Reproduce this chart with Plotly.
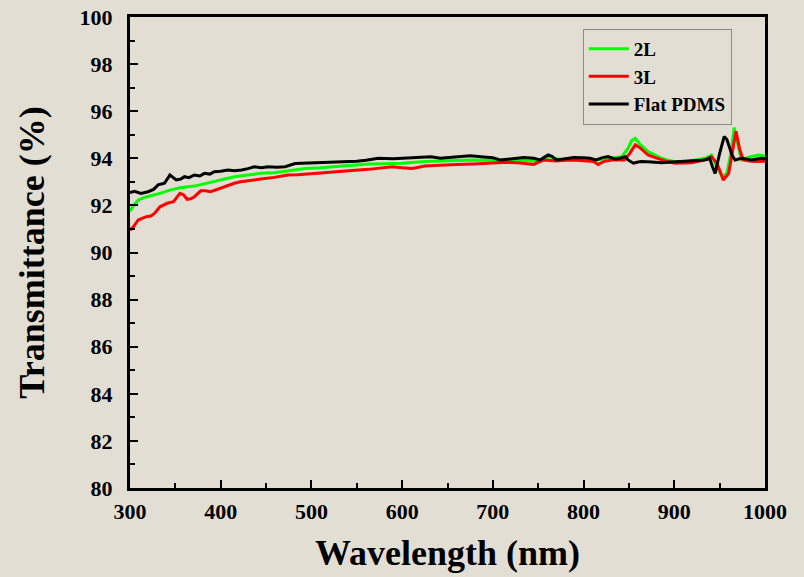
import plotly.graph_objects as go

# ---- data ----
wl_2L = [300, 305, 309, 316, 322, 327, 333, 344, 355, 371, 385, 400, 415, 430, 444, 459, 474, 493, 510, 526,
         545, 563, 580, 600, 625, 647, 665, 679, 700, 716, 730, 745, 755, 763, 770, 781, 795, 803, 813, 822,
         831, 842, 849, 853, 857, 862, 871, 880, 886, 893, 901, 915, 925, 934, 941, 947, 953, 958, 963, 966,
         970, 974, 982, 993, 1000]
t_2L = [91.75, 92.05, 92.23, 92.34, 92.40, 92.44, 92.51, 92.65, 92.75, 92.82, 92.94, 93.08, 93.22, 93.29, 93.36,
        93.39, 93.47, 93.57, 93.60, 93.64, 93.70, 93.76, 93.77, 93.79, 93.86, 93.90, 93.92, 93.93, 93.92, 93.93,
        93.92, 93.89, 93.95, 94.07, 93.98, 93.93, 93.97, 94.00, 93.93, 93.97, 94.00, 94.07, 94.42, 94.75, 94.85,
        94.60, 94.28, 94.10, 94.00, 93.92, 93.86, 93.88, 93.95, 94.00, 94.14, 93.64, 93.22, 93.36, 94.35, 95.30,
        94.60, 93.93, 94.05, 94.14, 94.10]

wl_3L = [300, 304, 309, 313, 318, 323, 327, 333, 341, 348, 355, 359, 363, 367, 371, 378, 383, 389, 395, 400,
         408, 415, 422, 430, 444, 459, 474, 485, 497, 510, 526, 545, 563, 575, 589, 600, 611, 625, 647, 660,
         679, 700, 716, 730, 745, 756, 763, 770, 780, 789, 800, 811, 816, 822, 831, 845, 851, 857, 862, 871,
         880, 886, 893, 901, 910, 919, 928, 934, 941, 947, 951, 954, 960, 965, 968, 972, 976, 983, 989, 1000]
t_3L = [90.95, 91.10, 91.38, 91.45, 91.52, 91.55, 91.66, 91.94, 92.09, 92.16, 92.51, 92.45, 92.26, 92.28, 92.37,
        92.62, 92.62, 92.58, 92.66, 92.73, 92.85, 92.94, 93.00, 93.05, 93.12, 93.19, 93.29, 93.30, 93.33, 93.38,
        93.43, 93.48, 93.53, 93.58, 93.64, 93.60, 93.57, 93.67, 93.72, 93.74, 93.76, 93.80, 93.83, 93.80, 93.74,
        93.93, 93.90, 93.89, 93.92, 93.93, 93.90, 93.86, 93.74, 93.86, 93.93, 93.93, 94.21, 94.57, 94.45, 94.14,
        94.02, 93.93, 93.85, 93.79, 93.80, 93.81, 93.88, 93.93, 94.07, 93.79, 93.40, 93.08, 93.36, 94.49, 95.15,
        94.40, 93.93, 93.88, 93.86, 93.88]

wl_flat = [300, 305, 312, 320, 326, 331, 338, 344, 347, 351, 356, 360, 365, 371, 377, 382, 388, 393, 400, 408,
           415, 423, 430, 437, 445, 452, 462, 471, 482, 495, 507, 520, 537, 550, 560, 574, 590, 603, 618, 632,
           642, 655, 665, 675, 690, 700, 708, 720, 734, 745, 752, 757, 761, 765, 770, 780, 789, 800, 807, 814,
           820, 827, 835, 842, 846, 849, 855, 860, 864, 875, 886, 897, 908, 920, 930, 936, 939, 942, 945, 950,
           955, 958, 961, 964, 967, 974, 985, 996, 1000]
t_flat = [92.55, 92.60, 92.51, 92.58, 92.68, 92.87, 92.94, 93.29, 93.20, 93.08, 93.12, 93.22, 93.18, 93.29, 93.25,
          93.36, 93.33, 93.43, 93.45, 93.50, 93.47, 93.50, 93.56, 93.64, 93.60, 93.64, 93.62, 93.64, 93.78, 93.80,
          93.81, 93.82, 93.86, 93.88, 93.92, 94.00, 93.98, 94.00, 94.02, 94.07, 94.00, 94.05, 94.08, 94.11, 94.06,
          94.02, 93.93, 93.98, 94.03, 94.00, 93.93, 94.05, 94.14, 94.08, 93.93, 93.98, 94.03, 94.02, 94.00, 93.93,
          94.02, 94.07, 93.96, 94.02, 94.07, 93.93, 93.79, 93.84, 93.86, 93.84, 93.81, 93.84, 93.86, 93.90, 93.92,
          93.95, 94.00, 93.65, 93.36, 94.21, 94.92, 94.80, 94.49, 94.10, 93.93, 94.00, 93.93, 94.00, 93.98]

x_ticks = [300, 400, 500, 600, 700, 800, 900, 1000]
y_ticks = [80, 82, 84, 86, 88, 90, 92, 94, 96, 98, 100]

FONT = "Liberation Serif"
BG = "#E3DED4"

fig = go.Figure()
fig.add_trace(go.Scatter(x=wl_2L, y=t_2L, mode="lines", name="<b>2L</b>",
                         line=dict(color="#00FF00", width=3)))
fig.add_trace(go.Scatter(x=wl_3L, y=t_3L, mode="lines", name="<b>3L</b>",
                         line=dict(color="#FF0000", width=3)))
fig.add_trace(go.Scatter(x=wl_flat, y=t_flat, mode="lines", name="<b>Flat PDMS</b>",
                         line=dict(color="#000000", width=3)))

axis_common = dict(
    showline=True, linecolor="black", linewidth=3, mirror=True,
    ticks="inside", ticklen=8, tickwidth=2, tickcolor="black",
    showgrid=False, zeroline=False, automargin=False,
    tickfont=dict(family=FONT, size=22, color="black", weight="bold"),
)

fig.update_xaxes(
    range=[300, 1000], tickvals=x_ticks, ticktext=[str(v) for v in x_ticks],
    minor=dict(ticks="inside", ticklen=5, tickwidth=2, tickcolor="black", dtick=50, tick0=300),
    title=dict(text="<b>Wavelength (nm)</b>", font=dict(family=FONT, size=36, color="black"), standoff=17),
    ticklabelstandoff=2,
    **axis_common,
)
fig.update_yaxes(
    range=[80, 100], tickvals=y_ticks, ticktext=[str(v) for v in y_ticks],
    minor=dict(ticks="inside", ticklen=5, tickwidth=2, tickcolor="black", dtick=1, tick0=80),
    title=dict(text="<b>Transmittance (%)</b>", font=dict(family=FONT, size=36, color="black"), standoff=24),
    ticklabelstandoff=10,
    **axis_common,
)

fig.update_layout(
    width=804, height=577,
    margin=dict(l=130, r=39, t=17, b=89),
    paper_bgcolor=BG, plot_bgcolor=BG,
    showlegend=True,
    legend=dict(x=0.713, y=0.975, xanchor="left", yanchor="top",
                bgcolor="rgba(0,0,0,0)", bordercolor="#8a8a8a", borderwidth=1,
                font=dict(family=FONT, size=19, color="black"),
                tracegroupgap=0, itemwidth=40),
)

fig.write_html("out.html")
